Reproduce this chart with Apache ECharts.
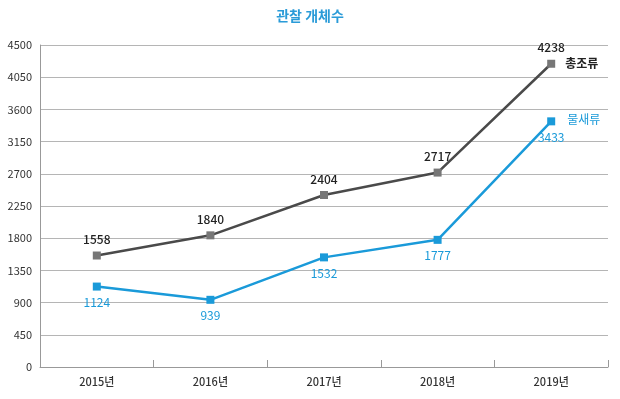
<!DOCTYPE html>
<html>
<head>
<meta charset="utf-8">
<script src="https://cdn.jsdelivr.net/npm/echarts@6/dist/echarts.min.js"></script>
<style>
  html, body { margin: 0; padding: 0; background: #fff; }
  #chart { width: 620px; height: 399px; }
</style>
</head>
<body>
<div id="chart"></div>
<script>
const years = ['2015년', '2016년', '2017년', '2018년', '2019년']
const totalBirds = [1558, 1840, 2404, 2717, 4238]
const waterBirds = [1124, 939, 1532, 1777, 3433]
const seriesNames = ['총조류', '물새류']

const font = '"Noto Sans CJK KR", "Noto Sans", sans-serif'
const chart = echarts.init(document.getElementById('chart'))

const option = {
  backgroundColor: '#fff',
  animation: false,
  title: {
    text: '관찰 개체수',
    left: 'center',
    top: 4,
    textStyle: { color: '#2a9bd8', fontSize: 14, fontWeight: 'bold', fontFamily: font },
  },
  grid: { left: 40, right: 12, top: 45, bottom: 32 },
  xAxis: {
    type: 'category',
    data: years,
    boundaryGap: true,
    axisLine: { lineStyle: { color: '#999', width: 1 } },
    axisTick: { show: true, inside: true, length: 7, lineStyle: { color: '#999' } },
    axisLabel: { color: '#333', fontSize: 11, fontWeight: 500, fontFamily: font, margin: 9 },
  },
  yAxis: {
    type: 'value',
    min: 0,
    max: 4500,
    interval: 450,
    axisLine: { show: true, lineStyle: { color: '#999' } },
    axisTick: { show: false },
    splitLine: { lineStyle: { color: '#b5b5b5', width: 1 } },
    axisLabel: { color: '#333', fontSize: 11, fontFamily: font, margin: 8, formatter: v => String(v) },
  },
  series: [
    {
      name: seriesNames[0],
      type: 'line',
      data: totalBirds,
      symbol: 'rect',
      symbolSize: 8,
      lineStyle: { color: '#4a4a4a', width: 2.5 },
      itemStyle: { color: '#777' },
      label: {
        show: true,
        position: 'top',
        distance: 6,
        color: '#222',
        fontSize: 12,
        fontWeight: 500,
        fontFamily: font,
      },
      endLabel: {
        show: true,
        formatter: '{a}',
        offset: [6, 0],
        color: '#222',
        fontSize: 12,
        fontWeight: 'bold',
        fontFamily: font,
      },
    },
    {
      name: seriesNames[1],
      type: 'line',
      data: waterBirds,
      symbol: 'rect',
      symbolSize: 8,
      lineStyle: { color: '#1a9ad9', width: 2.5 },
      itemStyle: { color: '#1a9ad9' },
      label: {
        show: true,
        position: 'bottom',
        distance: 6,
        color: '#1a9ad9',
        fontSize: 12,
        fontFamily: font,
      },
      endLabel: {
        show: true,
        formatter: '{a}',
        offset: [8, -2],
        color: '#1a9ad9',
        fontSize: 12,
        fontFamily: font,
      },
    },
  ],
}
chart.setOption(option)
</script>
</body>
</html>
